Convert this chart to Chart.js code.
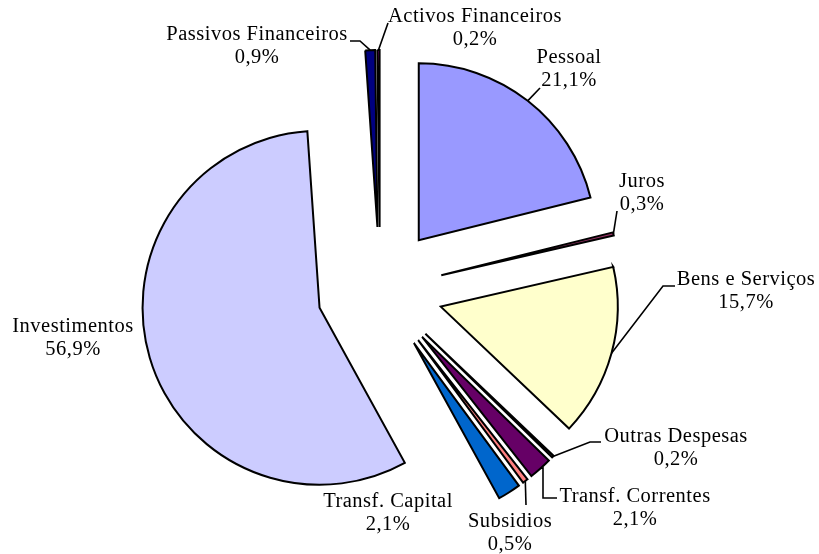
<!DOCTYPE html>
<html>
<head>
<meta charset="utf-8">
<script src="https://cdn.jsdelivr.net/npm/chart.js@4/dist/chart.umd.min.js"></script>
<style>
  html, body { margin: 0; padding: 0; background: #ffffff; }
  #wrap { width: 819px; height: 554px; }
</style>
</head>
<body>
<div id="wrap"><canvas id="c" width="819" height="554"></canvas></div>
<script>
// ---- data ----
const categories = ["Pessoal", "Juros", "Bens e Serviços", "Outras Despesas", "Transf. Correntes",
                    "Subsidios", "Transf. Capital", "Investimentos", "Passivos Financeiros", "Activos Financeiros"];
const shares = [21.1, 0.3, 15.7, 0.2, 2.1, 0.5, 2.1, 56.9, 0.9, 0.2];

// ---- styles / layout (not data) ----
const sliceColors = ["#9999FF", "#993366", "#FFFFCC", "#CCFFFF", "#660066",
                     "#FF8080", "#0066CC", "#CCCCFF", "#000080", "#FF00FF"];
const explode = 63;       // px each slice is pulled out from the centre
const pieRadius = 177;
// label anchor: centre x, first baseline y
const labelAnchors = [[569, 63], [642, 187], [746, 285], [676, 442], [635, 502],
                      [510, 527], [388, 507], [73, 332], [257, 40], [475, 22]];
// leader line points after the slice edge (empty = no leader)
const leaderPoints = [
  [[540, 88]],
  [[617, 211]],
  [[663, 286], [675, 286]],
  [[590, 442], [601, 442]],
  [[543, 468], [543, 498], [557, 498]],
  [[526, 505]],
  [],
  [],
  [[360, 41], [350, 41]],
  [[388, 23]]
];
const FONT = '20.5px "Liberation Serif", "Times New Roman", serif';
const LINE_GAP = 23;

// Chart.js shrinks/enlarges exploded arcs depending on their circumference;
// neutralise that so every slice is simply translated by `explode` px at full radius.
const plainExplodePlugin = {
  id: 'plainExplode',
  beforeDatasetsDraw(chart) {
    const meta = chart.getDatasetMeta(0);
    meta.data.forEach(arc => {
      arc.outerRadius = pieRadius;
      arc.circumference = Math.PI / 2;
    });
  }
};

const labelPlugin = {
  id: 'pieLabels',
  afterDraw(chart) {
    const ctx = chart.ctx;
    const meta = chart.getDatasetMeta(0);
    ctx.save();
    ctx.strokeStyle = '#000';
    ctx.lineWidth = 1.6;
    meta.data.forEach((arc, i) => {
      const pts = leaderPoints[i];
      if (!pts.length) return;
      const half = (arc.startAngle + arc.endAngle) / 2;
      const r = pieRadius + explode;
      const sx = arc.x + Math.cos(half) * r;
      const sy = arc.y + Math.sin(half) * r;
      ctx.beginPath();
      ctx.moveTo(sx, sy);
      pts.forEach(p => ctx.lineTo(p[0], p[1]));
      ctx.stroke();
    });
    ctx.fillStyle = '#000';
    ctx.font = FONT;
    ctx.textAlign = 'center';
    ctx.textBaseline = 'alphabetic';
    if ('letterSpacing' in ctx) ctx.letterSpacing = '0.5px';
    categories.forEach((name, i) => {
      const [x, y] = labelAnchors[i];
      const pct = shares[i].toFixed(1).replace('.', ',') + '%';
      ctx.fillText(name, x, y);
      ctx.fillText(pct, x, y + LINE_GAP);
    });
    ctx.restore();
  }
};

new Chart(document.getElementById('c'), {
  type: 'pie',
  data: {
    labels: categories,
    datasets: [{
      data: shares,
      backgroundColor: sliceColors,
      borderColor: '#000000',
      borderWidth: 2,
      borderJoinStyle: 'miter',
      offset: 4 * explode,
      hoverOffset: 0
    }]
  },
  options: {
    responsive: false,
    animation: false,
    radius: pieRadius,
    layout: { padding: { left: 0, right: 59, top: 26, bottom: 0 } },
    plugins: { legend: { display: false }, tooltip: { enabled: false } },
    events: []
  },
  plugins: [plainExplodePlugin, labelPlugin]
});
</script>
</body>
</html>
